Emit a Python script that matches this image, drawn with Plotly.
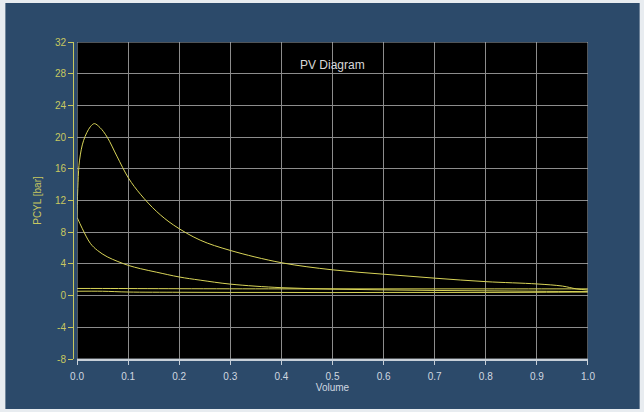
import plotly.graph_objects as go

# Data (Volume normalised, pressure in bar)
intake_v = [0.0, 0.05, 0.1, 0.2, 0.3, 0.4, 0.5, 0.6, 0.7, 0.8, 0.9, 1.0]
intake_p = [0.55, 0.55, 0.45, 0.42, 0.4, 0.4, 0.38, 0.4, 0.4, 0.4, 0.42, 0.45]

comp_v = [1.0, 0.9, 0.8, 0.7, 0.6, 0.5, 0.4, 0.3, 0.241, 0.2, 0.156, 0.124, 0.101, 0.08, 0.059, 0.04, 0.026, 0.01, 0.0]
comp_p = [0.5, 0.55, 0.6, 0.65, 0.72, 0.82, 1.0, 1.45, 1.95, 2.35, 2.95, 3.4, 3.8, 4.3, 4.9, 5.7, 6.6, 8.5, 9.9]

exp_v = [0.0, 0.002, 0.005, 0.013, 0.026, 0.034, 0.045, 0.059, 0.078, 0.101, 0.124, 0.156, 0.189, 0.241, 0.3, 0.4, 0.5, 0.6, 0.7, 0.8, 0.9, 0.95, 0.977, 1.0]
exp_p = [9.9, 14.3, 17.1, 19.6, 21.3, 21.7, 21.2, 20.0, 17.6, 14.8, 12.8, 10.6, 8.9, 7.0, 5.7, 4.15, 3.25, 2.7, 2.2, 1.76, 1.47, 1.2, 0.85, 0.7]

exh_v = [1.0, 0.8, 0.6, 0.4, 0.2, 0.05, 0.0]
exh_p = [0.85, 0.85, 0.85, 0.85, 0.87, 0.9, 0.9]

x_ticks = [0.0, 0.1, 0.2, 0.3, 0.4, 0.5, 0.6, 0.7, 0.8, 0.9, 1.0]
y_ticks = [-8, -4, 0, 4, 8, 12, 16, 20, 24, 28, 32]

LINE = "#d8d458"
YEL = "#c8c860"
BLUE = "#2c4a6a"
GRID = "#8c8c8c"

fig = go.Figure()
for v, p in [(intake_v, intake_p), (comp_v, comp_p), (exp_v, exp_p), (exh_v, exh_p)]:
    fig.add_trace(go.Scatter(x=v, y=p, mode="lines", line=dict(color=LINE, width=1),
                             line_shape="spline", showlegend=False, hoverinfo="skip"))

fig.update_layout(
    width=644, height=412,
    margin=dict(l=73, r=56, t=42, b=53, autoexpand=False),
    paper_bgcolor="#e8ecf0",
    plot_bgcolor="black",
    font=dict(family="Liberation Sans, Arial, sans-serif", size=10),
    showlegend=False,
    xaxis=dict(
        domain=[0.0078, 1], range=[0, 1], tickvals=x_ticks,
        ticktext=[f"{t:.1f}" for t in x_ticks], automargin=False,
        showgrid=True, gridcolor=GRID, gridwidth=1, zeroline=False,
        showline=True, linecolor="#c8d0d8", linewidth=2,
        ticks="outside", ticklen=4, tickcolor="#c8d0d8", ticklabelstandoff=3,
        tickfont=dict(color="#d0d8e0", size=10),
        title=dict(text="Volume", font=dict(color="#d0d8e0", size=10), standoff=2),
    ),
    yaxis=dict(
        anchor="free", position=0, range=[-8, 32], tickvals=y_ticks,
        ticktext=[str(t) for t in y_ticks], automargin=False,
        showgrid=True, gridcolor=GRID, gridwidth=1, zeroline=False,
        showline=True, linecolor=YEL, linewidth=1,
        ticks="outside", ticklen=5, tickcolor=YEL,
        tickfont=dict(color=YEL, size=10),
        title=dict(text="PCYL [bar]", font=dict(color=YEL, size=10), standoff=10),
    ),
    shapes=[
        dict(type="rect", xref="paper", yref="paper", x0=-0.1313, x1=1.1003, y0=-0.1577, y1=1.123,
             fillcolor=BLUE, line=dict(width=0), layer="below"),
        dict(type="rect", xref="x", yref="y", x0=0, x1=1, y0=-8, y1=32,
             fillcolor="black", line=dict(width=0), layer="below"),
        dict(type="rect", xref="x", yref="y", x0=0, x1=1, y0=-8, y1=32,
             line=dict(color="#a0a8b0", width=1), layer="above"),
    ],
    annotations=[
        dict(text="PV Diagram", xref="x", yref="y", x=0.5, y=29.1, showarrow=False,
             font=dict(color="#d8d8d8", size=12)),
    ],
)

fig.write_html("out.html", config={"displayModeBar": False},
               post_script="document.body.style.margin='0';")
